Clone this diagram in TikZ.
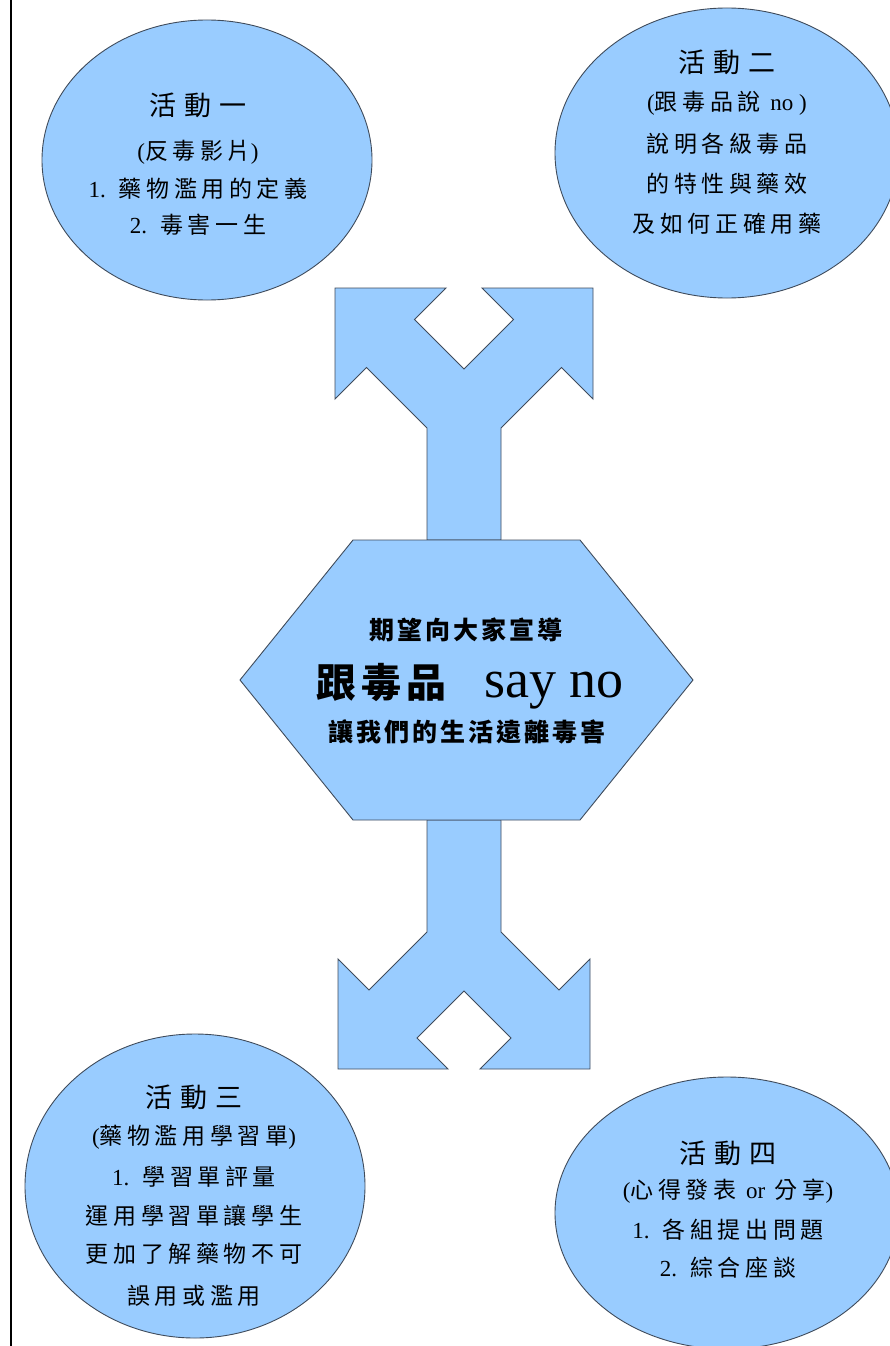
\documentclass[tikz,border=0pt]{standalone}
\usepackage{fontspec}
\setmainfont{Liberation Serif}
\newfontfamily\cjk{Noto Sans CJK TC}[LetterSpace=20]
\newfontfamily\cjkt{Noto Sans CJK TC}[LetterSpace=28]
\newfontfamily\cjkh{Noto Sans CJK TC}[LetterSpace=12]
\definecolor{fillblue}{HTML}{99CCFF}
\definecolor{edgegray}{HTML}{3F4B5B}
\tikzset{
  shapefill/.style={fill=fillblue, draw=edgegray, line width=0.9pt, line join=miter},
  bodytxt/.style={inner sep=0pt, font=\fontsize{23}{25}\selectfont\cjk},
  titletxt/.style={inner sep=0pt, font=\fontsize{27}{30}\selectfont\cjkt},
  hextxt/.style={inner sep=0pt, font=\fontsize{25}{28}\selectfont\bfseries\cjkh},
}
\begin{document}
\begin{tikzpicture}[x=1pt,y=-1pt]
\useasboundingbox (0,0) rectangle (890,1346);
\clip (0,0) rectangle (890,1346);
\fill[white] (0,0) rectangle (890,1346);
% left frame line
\draw[black, line width=2pt] (10.5,0) -- (10.5,1346);

% ellipses
\filldraw[shapefill] (207,160) ellipse [x radius=165, y radius=140];
\filldraw[shapefill] (727,153) ellipse [x radius=172, y radius=145];
\filldraw[shapefill] (195,1186) ellipse [x radius=170, y radius=152];
\filldraw[shapefill] (727,1213) ellipse [x radius=172, y radius=136];

% top split arrow
\filldraw[shapefill] (427,540) -- (427,428) -- (366.5,367.5) -- (335,399) -- (335,288)
  -- (446,288) -- (414.5,319.5) -- (464,369) -- (513.5,319.5) -- (482,288) -- (593,288)
  -- (593,399) -- (561.5,367.5) -- (501,428) -- (501,540) -- cycle;
% bottom split arrow
\filldraw[shapefill] (427,820) -- (427,932) -- (369,990) -- (338,959) -- (338,1069)
  -- (448,1069) -- (417,1038) -- (464,991) -- (511,1038) -- (480,1069) -- (590,1069)
  -- (590,959) -- (559,990) -- (501,932) -- (501,820) -- cycle;
% hexagon
\filldraw[shapefill] (353,540) -- (580,540) -- (693,680) -- (580,820) -- (353,820) -- (240,680) -- cycle;

% hexagon text
\node[hextxt] (h1) at (466,630) {期望向大家宣導};
\node[inner sep=0pt, anchor=base] (h2) at (470,697) {{\fontsize{40}{44}\selectfont\bfseries\cjkh 跟毒品}\hspace{38pt}{\fontsize{54}{56}\selectfont\rmfamily say no}};
\node[hextxt] (h3) at (467,732) {讓我們的生活遠離毒害};

% ellipse 1 text
\node[titletxt] (a1) at (198,105) {活動一};
\node[bodytxt] (a2) at (198,152) {{\rmfamily(}反毒影片{\rmfamily)}};
\node[bodytxt] (a3) at (198,189) {{\rmfamily 1.} 藥物濫用的定義};
\node[bodytxt] (a4) at (198,225) {{\rmfamily 2.} 毒害一生};

% ellipse 2 text
\node[titletxt] (b1) at (727,62) {活動二};
\node[bodytxt] (b2) at (727,103) {{\rmfamily(}跟毒品說 {\rmfamily no )}};
\node[bodytxt] (b3) at (727,144) {說明各級毒品};
\node[bodytxt] (b4) at (727,184) {的特性與藥效};
\node[bodytxt] (b5) at (727,224) {及如何正確用藥};

% ellipse 3 text
\node[titletxt] (c1) at (194,1097) {活動三};
\node[bodytxt] (c2) at (194,1137) {{\rmfamily(}藥物濫用學習單{\rmfamily)}};
\node[bodytxt] (c3) at (194,1177) {{\rmfamily 1.} 學習單評量};
\node[bodytxt] (c4) at (194,1216) {運用學習單讓學生};
\node[bodytxt] (c5) at (194,1254) {更加了解藥物不可};
\node[bodytxt] (c6) at (194,1296) {誤用或濫用};

% ellipse 4 text
\node[titletxt] (d1) at (728,1153) {活動四};
\node[bodytxt] (d2) at (728,1191) {{\rmfamily(}心得發表 {\rmfamily or} 分享{\rmfamily)}};
\node[bodytxt] (d3) at (728,1230) {{\rmfamily 1.} 各組提出問題};
\node[bodytxt] (d4) at (728,1268) {{\rmfamily 2.} 綜合座談};
\end{tikzpicture}
\end{document}
